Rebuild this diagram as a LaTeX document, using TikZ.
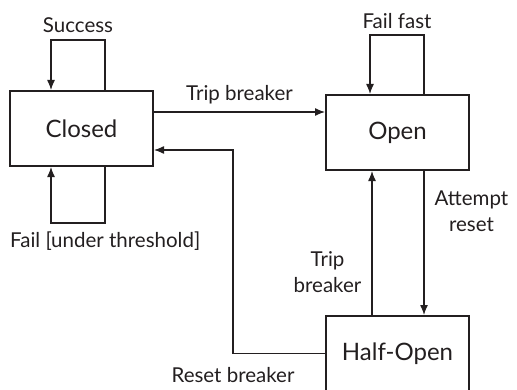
\documentclass[tikz,border=0pt]{standalone}
\usepackage{fontspec}
\setmainfont{Lato}
\usetikzlibrary{arrows.meta}
\definecolor{ink}{HTML}{231F20}

\begin{document}
\begin{tikzpicture}[x=1pt, y=1pt,
    state/.style={draw=ink, line width=2pt, minimum width=143pt, minimum height=75pt,
        inner sep=0pt, text=ink, font=\fontsize{24}{28}\selectfont},
    flow/.style={draw=ink, line width=1.3pt, -{Latex[length=10pt,width=8pt]}},
    lbl/.style={text=ink, align=center, inner sep=1pt, font=\fontsize{20.5}{26}\selectfont}]
    \useasboundingbox (0,0) rectangle (517,389);

    % States
    \node[state] (closed) at (81.5,260.5) {Closed};
    \node[state] (open) at (397.5,256.5) {Open};
    \node[state] (half) at (397.5,35.5) {Half-Open};

    % Closed: self loops
    \draw[flow] ([xshift=23.5pt]closed.north) -- ++(0,50) -| node[lbl, pos=0.25, above=6pt] (success) {Success} ([xshift=-30.5pt]closed.north);
    \draw[flow] ([xshift=23.5pt]closed.south) -- ++(0,-56) -| ([xshift=-30.5pt]closed.south);
    \node[lbl, anchor=west] (failtxt) at ([yshift=-74pt]closed.south west) {Fail [under threshold]};

    % Closed -> Open
    \coordinate (tripout) at ([yshift=16.5pt]closed.east);
    \draw[flow] (tripout) -- node[lbl, above=6pt] (tripA) {Trip breaker} (open.west |- tripout);

    % Open: self loop
    \draw[flow] ([xshift=26.5pt]open.north) -- ++(0,59) -| node[lbl, pos=0.25, above=5pt] (failfast) {Fail fast} ([xshift=-27.5pt]open.north);

    % Open <-> Half-Open
    \draw[flow] ([xshift=26.5pt]open.south) -- node[lbl, pos=0.28, right=9pt] (attempt) {Attempt\\reset} ([xshift=26.5pt]half.north);
    \draw[flow] ([xshift=-25.5pt]half.north) -- node[lbl, pos=0.30, left=9pt] (tripB) {Trip\\breaker} ([xshift=-25.5pt]open.south);

    % Half-Open -> Closed
    \draw[flow] (half.west) -- ++(-92,0) node[lbl, below=12pt] (reset) {Reset breaker} |- ([yshift=-21.5pt]closed.east);
\end{tikzpicture}
\end{document}
